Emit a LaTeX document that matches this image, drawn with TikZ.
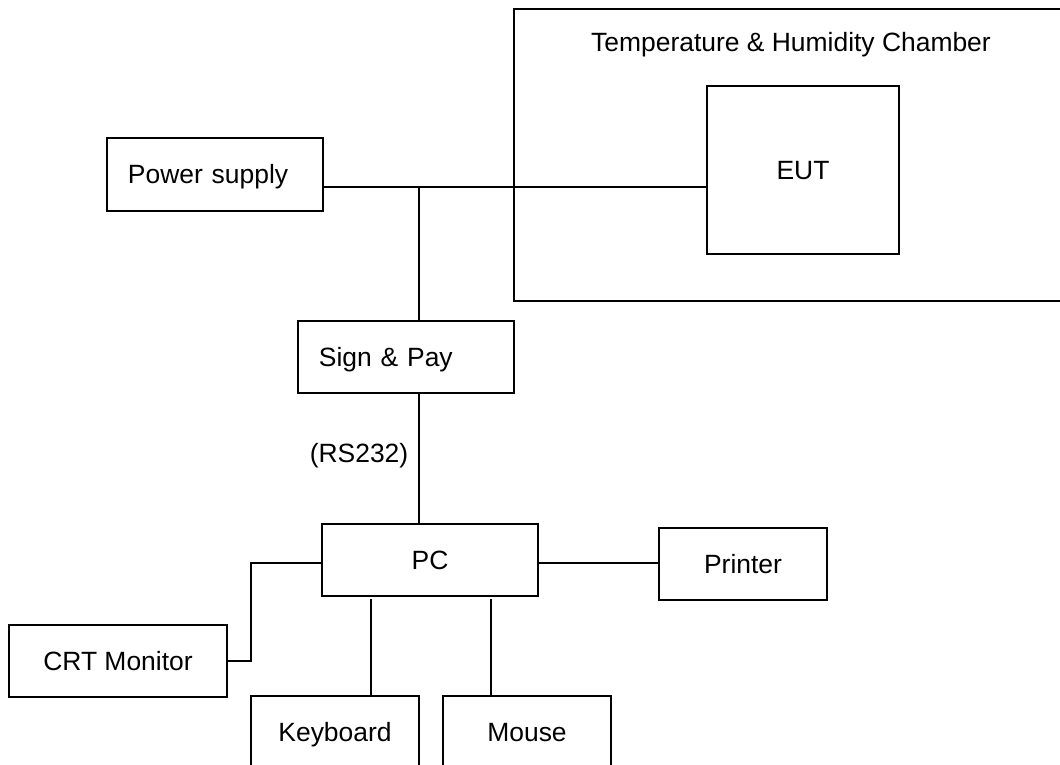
\documentclass[tikz,border=0pt]{standalone}
\usepackage{fontspec}
\setmainfont{Liberation Sans}
\usepackage{tikz}
\usetikzlibrary{positioning, calc}

\begin{document}
\begin{tikzpicture}[x=0.025cm, y=-0.025cm, line width=1.1pt,
    txt/.style={font=\fontsize{18.8}{22}\selectfont},
    box/.style={txt, draw, rectangle, minimum height=1.8cm, inner sep=0pt,
      text height=13.5pt, text depth=0pt},
    leftbox/.style={box, text width=4.35cm, inner xsep=0.525cm, align=left}]
        \useasboundingbox (0,0) rectangle (1060,764);
        \clip (0,0) rectangle (1060,764);
        % chamber, open to the right
        \draw (1070,9) -| (514,301) -- (1070,301);
        \node[txt] (title) at (791,45) {Temperature \& Humidity Chamber};
        \node[box, minimum width=4.8cm, minimum height=4.2cm] (eut) at (803,170) {EUT};
        \node[leftbox, minimum height=1.825cm] (power) at (215,174.5) {Power supply};
        \node[leftbox] (sign) at (406,357) {Sign \& Pay};
        \node[box, minimum width=5.4cm] (pc) at (430,560) {PC};
        \node[box, minimum width=4.2cm] (printer) at (743,564) {Printer};
        \node[box, minimum width=5.45cm] (crt) at (118,661) {CRT Monitor};
        \node[box, minimum width=4.2cm] (kbd) at (335,732) {Keyboard};
        \node[box, minimum width=4.2cm] (mouse) at (527,732) {Mouse};
        \node[txt] (rs) at (359,456) {(RS232)};
        % junctions
        \coordinate (j) at (419,187);
        \coordinate (m) at (251,563);
        \coordinate (k) at (371,599);
        \coordinate (ms) at (491,599);
        \draw (power.east |- j) -- (eut.west |- j);
        \draw (j) -- (j |- sign.north);
        \draw (j |- sign.south) -- (j |- pc.north);
        \draw (pc.west |- m) -- (m) |- (crt.east);
        \draw (pc.east |- m) -- (printer.west |- m);
        \draw (k) -- (k |- kbd.north);
        \draw (ms) -- (ms |- mouse.north);
\end{tikzpicture}
\end{document}
